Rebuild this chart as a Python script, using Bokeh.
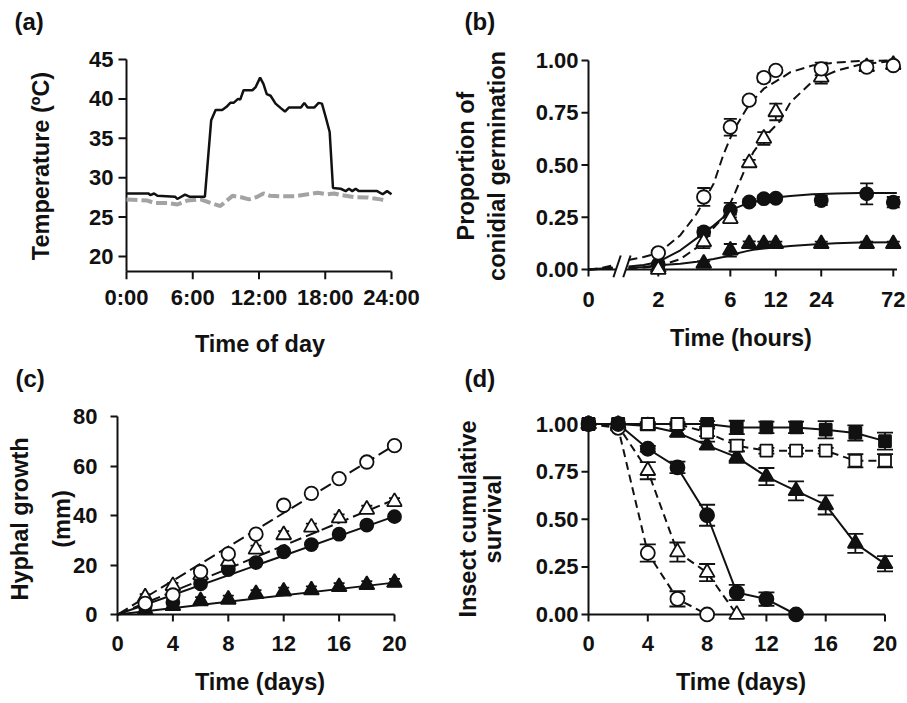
import math
from bokeh.plotting import figure
from bokeh.models import (FixedTicker, NumeralTickFormatter, Whisker, TeeHead,
                          ColumnDataSource)
from bokeh.layouts import row, column
from bokeh.embed import file_html
from bokeh.resources import INLINE

FONT = "Liberation Sans"
BLACK = "#111111"
GREY = "#a3a3a3"
TICK_FS = "22px"
TITLE_FS = "23.5px"
nan = float("nan")

# ---------------- (a) temperature ----------------
A_HEATED_T = [0, 2.0, 2.15, 2.5, 2.8, 4.4, 4.6, 5.3, 5.7, 7.1, 7.67, 8.07, 8.67, 9.06, 9.4,
              9.7, 10.1, 10.3, 10.6, 11.4, 11.7, 12.1, 12.4, 12.7, 13.05, 13.5, 14.0, 14.35,
              14.7, 15.8, 16.1, 16.4, 17.0, 17.4, 17.7, 18.04, 18.4, 18.7, 19.4, 19.85, 20.15,
              20.45, 20.75, 21.05, 22.7, 23.2, 23.6, 24.0]
A_HEATED_C = [28.0, 28.0, 27.8, 28.0, 27.7, 27.6, 27.3, 27.85, 27.6, 27.6, 37.3, 38.6, 38.6,
              39.0, 39.5, 39.5, 40.0, 39.9, 41.1, 41.1, 41.5, 42.7, 41.9, 40.6, 40.4, 39.4,
              38.8, 38.4, 38.9, 38.9, 39.5, 38.9, 38.9, 39.5, 39.4, 37.7, 35.8, 28.7, 28.6,
              28.3, 28.6, 28.3, 28.6, 28.3, 28.3, 27.9, 28.3, 27.9]
A_CTRL_T = [0, 1.9, 2.5, 3.7, 4.6, 5.5, 6.7, 7.6, 8.5, 9.0, 9.6, 10.3, 11.1, 11.8, 12.4, 13.0,
            14.0, 15.2, 16.4, 17.3, 18.2, 18.8, 19.4, 20.6, 21.8, 23.0, 23.5]
A_CTRL_C = [27.25, 27.1, 26.8, 26.8, 26.6, 27.1, 27.25, 26.8, 26.4, 27.0, 27.7, 27.55, 27.25,
            27.55, 28.0, 27.7, 27.65, 27.65, 27.9, 28.1, 27.9, 28.0, 27.8, 27.55, 27.5, 27.25,
            27.1]
A_XTICKS = [0, 6, 12, 18, 24]
A_XTICK_LABELS = ["0:00", "6:00", "12:00", "18:00", "24:00"]
A_YTICKS = [20, 25, 30, 35, 40, 45]
A_YMIN = 18.1

# ---------------- (b) germination ----------------
B_ZERO = 0.69          # where "0" sits on the log time axis
B_AXIS_END = 76.2
B_BREAKS = [1.05, 1.22]
B_T = [2, 4, 6, 8, 10, 12, 24, 48, 72]
B_OC = [0.08, 0.347, 0.681, 0.81, 0.918, 0.953, 0.96, 0.968, 0.976]
B_OC_ERR = [0.01, 0.043, 0.04, 0.015, 0.02, 0.015, 0.03, 0.015, 0.015]
B_OT = [0.0, 0.132, 0.243, 0.51, 0.627, 0.754, 0.92, 0.97, 0.98]
B_OT_ERR = [0.01, 0.03, 0.02, 0.015, 0.03, 0.04, 0.03, 0.02, 0.01]
B_FC = [0.025, 0.18, 0.284, 0.323, 0.339, 0.341, 0.33, 0.362, 0.322]
B_FC_ERR = [0.01, 0.02, 0.035, 0.015, 0.015, 0.015, 0.022, 0.05, 0.025]
B_FT = [0.01, 0.029, 0.092, 0.123, 0.123, 0.123, 0.123, 0.123, 0.123]
B_FT_ERR = [0.005, 0.01, 0.03, 0.012, 0.01, 0.01, 0.01, 0.01, 0.01]
B_FIT_T = [0, 0.85, 1.0, nan, 1.27, 1.6, 2, 2.8, 3.6, 4.65, 5.4, 6.3, 7.7, 8.5, 10, 12.8,
           15, 21, 30, 43, 76]
B_OC_FIT = [0, 0.008, 0.02, nan, 0.045, 0.06, 0.078, 0.164, 0.268, 0.41, 0.55, 0.665, 0.77,
            0.81, 0.865, 0.912, 0.944, 0.976, 0.99, 0.998, 1.0]
B_OT_FIT = [0, 0.002, 0.004, nan, 0.006, 0.01, 0.016, 0.05, 0.105, 0.2, 0.25, 0.35, 0.5,
            0.56, 0.63, 0.71, 0.8, 0.9, 0.95, 0.98, 1.0]
B_FC_FIT = [0, 0.005, 0.01, nan, 0.014, 0.022, 0.036, 0.092, 0.15, 0.21, 0.25, 0.29, 0.315,
            0.323, 0.335, 0.347, 0.352, 0.36, 0.364, 0.366, 0.366]
B_FT_FIT = [0, 0.003, 0.005, nan, 0.008, 0.012, 0.02, 0.028, 0.037, 0.05, 0.06, 0.073, 0.088,
            0.094, 0.1, 0.108, 0.113, 0.12, 0.126, 0.129, 0.13]
B_XTICKS = [0, 2, 6, 12, 24, 72]
B_YTICKS = [0, 0.25, 0.5, 0.75, 1.0]

# ---------------- (c) hyphal growth ----------------
C_T = [2, 4, 6, 8, 10, 12, 14, 16, 18, 20]
C_OC = [4.5, 7.9, 17.3, 24.5, 32.5, 44.2, 49.0, 55.0, 61.7, 68.3]
C_OT = [7.0, 11.6, 16.0, 21.5, 26.4, 32.2, 35.3, 39.0, 42.5, 45.6]
C_FC = [3.5, 5.0, 12.4, 18.2, 21.0, 25.4, 28.3, 32.5, 36.2, 39.6]
C_FT = [2.0, 3.5, 5.5, 6.1, 8.4, 9.4, 9.9, 11.2, 12.0, 12.9]
C_ERR = [1.2, 1.2, 1.5, 1.5, 1.5, 1.5, 1.5, 1.5, 1.5, 1.5]
C_FIT_T = [0, 20]
C_OC_FIT = [0, 68.5]
C_OT_FIT = [0, 46.5]
C_FC_FIT = [0, 39.7]
C_FT_FIT = [0, 12.9]
C_XTICKS = [0, 4, 8, 12, 16, 20]
C_YTICKS = [0, 20, 40, 60, 80]

# ---------------- (d) insect survival ----------------
D_T = [0, 2, 4, 6, 8, 10, 12, 14, 16, 18, 20]
D_FS = [1, 1, 1, 1, 1, 0.982, 0.982, 0.982, 0.97, 0.953, 0.91]
D_FS_ERR = [0, 0, 0.01, 0.01, 0.015, 0.035, 0.03, 0.03, 0.045, 0.04, 0.045]
D_OS = [1, 1, 1, 1, 0.956, 0.886, 0.86, 0.86, 0.86, 0.807, 0.807]
D_OS_ERR = [0, 0, 0, 0, 0.02, 0.03, 0.015, 0.015, 0.015, 0.035, 0.035]
D_FT = [1, 1, 0.99, 0.955, 0.888, 0.826, 0.724, 0.649, 0.575, 0.373, 0.266]
D_FT_ERR = [0, 0, 0.01, 0.02, 0.02, 0.03, 0.045, 0.05, 0.05, 0.05, 0.04]
D_FC_T = [0, 2, 4, 6, 8, 10, 12, 14]
D_FC = [1, 1, 0.87, 0.772, 0.521, 0.115, 0.081, 0.0]
D_FC_ERR = [0, 0, 0.015, 0.03, 0.055, 0.04, 0.035, 0]
D_OT_T = [0, 2, 4, 6, 8, 10]
D_OT = [1, 0.99, 0.755, 0.328, 0.22, 0.0]
D_OT_ERR = [0, 0, 0.045, 0.05, 0.045, 0]
D_OC_T = [0, 2, 4, 6, 8]
D_OC = [1, 0.98, 0.323, 0.082, 0.0]
D_OC_ERR = [0, 0, 0.045, 0.04, 0]
D_XTICKS = [0, 4, 8, 12, 16, 20]
D_YTICKS = [0, 0.25, 0.5, 0.75, 1.0]

# ---------------- shared layout (borders equal within each row / column) --------------
L1, FW1, R1 = 117, 285, 31          # left column
L2, FW2, R2 = 147, 321, 4           # right column
T1, FH1, B1 = 52, 227, 77           # top row
T2, FH2, B2 = 56, 207, 82           # bottom row


def make_fig(col, rw, xr, yr, x_axis_type="linear"):
    l, fw, r = (L1, FW1, R1) if col == 0 else (L2, FW2, R2)
    t, fh, b = (T1, FH1, B1) if rw == 0 else (T2, FH2, B2)
    p = figure(frame_width=fw, frame_height=fh, min_border_left=l, min_border_right=r,
               min_border_top=t, min_border_bottom=b, x_range=xr, y_range=yr,
               x_axis_type=x_axis_type, output_backend="svg", toolbar_location=None)
    p.outline_line_color = None
    p.xgrid.visible = False
    p.ygrid.visible = False
    p.background_fill_color = "white"
    p.border_fill_color = "white"
    return p


def style_axis(ax, ticks, tick_out, standoff, label, label_standoff, bounds,
               line_height=1.2, overrides=None, fmt=None, draw_line=True):
    ax.ticker = FixedTicker(ticks=ticks)
    ax.bounds = bounds
    ax.axis_line_width = 2
    ax.axis_line_color = BLACK if draw_line else None
    ax.major_tick_line_width = 2
    ax.major_tick_line_color = BLACK if draw_line else None
    ax.major_tick_in = 0
    ax.major_tick_out = tick_out
    ax.minor_tick_line_color = None
    ax.major_label_standoff = standoff
    ax.major_label_text_font = FONT
    ax.major_label_text_font_style = "bold"
    ax.major_label_text_font_size = TICK_FS
    ax.major_label_text_color = BLACK
    ax.axis_label = label
    ax.axis_label_standoff = label_standoff
    ax.axis_label_text_font = FONT
    ax.axis_label_text_font_style = "bold"
    ax.axis_label_text_font_size = TITLE_FS
    ax.axis_label_text_color = BLACK
    ax.axis_label_text_line_height = line_height
    if overrides is not None:
        ax.major_label_overrides = overrides
    if fmt is not None:
        ax.formatter = fmt


def panel_tag(p, text, offset, line_height):
    # panel letter as the plot title; a blank second line lifts it to the top corner
    p.title.text = text + "\n\u00a0"
    p.title.align = "left"
    p.title.vertical_align = "bottom"
    p.title.offset = offset
    p.title.standoff = 0
    p.title.text_font = FONT
    p.title.text_font_style = "bold"
    p.title.text_font_size = "24px"
    p.title.text_line_height = line_height
    p.title.text_color = BLACK


def axis_lines(p, xs0, ys0, xs1, ys1):
    p.segment(x0=xs0, y0=ys0, x1=xs1, y1=ys1, line_color=BLACK, line_width=2)


def markers(p, x, y, marker, size, filled):
    p.scatter(x, y, marker=marker, size=size, fill_color=BLACK if filled else "white",
              line_color=BLACK, line_width=1.8)


def errorbars(p, x, y, err, head):
    xs, lo, hi = [], [], []
    for xi, yi, ei in zip(x, y, err):
        if ei > 0:
            xs.append(xi)
            lo.append(yi - ei)
            hi.append(yi + ei)
    src = ColumnDataSource(dict(base=xs, lower=lo, upper=hi))
    p.add_layout(Whisker(base="base", lower="lower", upper="upper", source=src,
                         dimension="height", line_color=BLACK, line_width=1.8,
                         level="underlay",
                         upper_head=TeeHead(size=head, line_color=BLACK, line_width=1.8),
                         lower_head=TeeHead(size=head, line_color=BLACK, line_width=1.8)))


# ---------------- panel (a) ----------------
A_PX_X = 265 / 24.0
A_PX_Y = 197 / 25.0
pa = make_fig(0, 0, (-9 / A_PX_X, 24 + 11 / A_PX_X), (A_YMIN - 8 / A_PX_Y, 45 + 7 / A_PX_Y))
axis_lines(pa, [0, 0], [A_YMIN, A_YMIN], [24, 0], [A_YMIN, 45])
axis_lines(pa, A_XTICKS, [A_YMIN] * 5, A_XTICKS, [A_YMIN - 8 / A_PX_Y] * 5)
axis_lines(pa, [0] * 6, A_YTICKS, [-8 / A_PX_X] * 6, A_YTICKS)
pa.line(A_CTRL_T, A_CTRL_C, line_color=GREY, line_width=4, line_dash="11 4")
pa.line(A_HEATED_T, A_HEATED_C, line_color=BLACK, line_width=2.5)
style_axis(pa.xaxis[0], A_XTICKS, 0, 5, "Time of day", 18, (0, 24),
           overrides=dict(zip(A_XTICKS, A_XTICK_LABELS)), draw_line=False)
style_axis(pa.yaxis[0], A_YTICKS, 0, 4, "Temperature (ºC)", 32, (A_YMIN, 45),
           draw_line=False)
panel_tag(pa, "(a)", -103, 0.63)

# ---------------- panel (b) ----------------
B_PX_DEC = 151.0
B_PX_UNIT = 209.0
pb = make_fig(1, 0, (B_ZERO / 10 ** (8 / B_PX_DEC), B_ZERO * 10 ** (313 / B_PX_DEC)),
              (-10 / B_PX_UNIT, 1 + 8 / B_PX_UNIT), x_axis_type="log")
b_tick_pos = [B_ZERO if t == 0 else t for t in B_XTICKS]
# broken time axis, value axis and outward ticks
axis_lines(pb, [B_ZERO, B_BREAKS[1], B_ZERO], [0, 0, -7 / B_PX_UNIT],
           [B_BREAKS[0], B_AXIS_END, B_ZERO], [0, 0, 1])
axis_lines(pb, b_tick_pos[1:], [0] * 5, b_tick_pos[1:], [-7 / B_PX_UNIT] * 5)
axis_lines(pb, [B_ZERO] * 5, B_YTICKS, [B_ZERO / 10 ** (7 / B_PX_DEC)] * 5, B_YTICKS)
lo_f, hi_f = 10 ** (-2.6 / B_PX_DEC), 10 ** (4.7 / B_PX_DEC)
axis_lines(pb, [b * lo_f for b in B_BREAKS], [-0.037, -0.037],
           [b * hi_f for b in B_BREAKS], [0.067, 0.067])
fit_x = [B_ZERO if t == 0 else t for t in B_FIT_T]
pb.line(fit_x, B_OC_FIT, line_color=BLACK, line_width=2, line_dash="9 5")
pb.line(fit_x, B_OT_FIT, line_color=BLACK, line_width=2, line_dash="9 5")
pb.line(fit_x, B_FC_FIT, line_color=BLACK, line_width=2)
pb.line(fit_x, B_FT_FIT, line_color=BLACK, line_width=2)
for y, e in ((B_FT, B_FT_ERR), (B_FC, B_FC_ERR), (B_OT, B_OT_ERR), (B_OC, B_OC_ERR)):
    errorbars(pb, B_T, y, e, 13)
markers(pb, B_T, B_FT, "triangle", 15, True)
markers(pb, B_T, B_FC, "circle", 13, True)
markers(pb, B_T, B_OT, "triangle", 15, False)
markers(pb, B_T, B_OC, "circle", 13.5, False)
style_axis(pb.xaxis[0], b_tick_pos, 0, 12, "Time (hours)", 15, (B_ZERO, B_AXIS_END),
           overrides={pos: str(t) for pos, t in zip(b_tick_pos, B_XTICKS)}, draw_line=False)
style_axis(pb.yaxis[0], B_YTICKS, 0, 2, "Proportion of\nconidial germination", 23, (0, 1),
           line_height=1.18, fmt=NumeralTickFormatter(format="0.00"), draw_line=False)
panel_tag(pb, "(b)", -116, 0.63)

# ---------------- panel (c) ----------------
C_PX_X = 277 / 20.0
C_PX_Y = 197.7 / 80.0
pc = make_fig(0, 1, (0, FW1 / C_PX_X), (-8 / C_PX_Y, 80 + 1.3 / C_PX_Y))
axis_lines(pc, [0], [0], [20], [0])
axis_lines(pc, C_XTICKS[1:], [0] * 5, C_XTICKS[1:], [-7 / C_PX_Y] * 5)
pc.line(C_FIT_T, C_OC_FIT, line_color=BLACK, line_width=2, line_dash="12 5")
pc.line(C_FIT_T, C_OT_FIT, line_color=BLACK, line_width=2, line_dash="12 5")
pc.line(C_FIT_T, C_FC_FIT, line_color=BLACK, line_width=2)
pc.line(C_FIT_T, C_FT_FIT, line_color=BLACK, line_width=2)
for y in (C_FT, C_FC, C_OT, C_OC):
    errorbars(pc, C_T, y, C_ERR, 11)
markers(pc, C_T, C_FT, "triangle", 15, True)
markers(pc, C_T, C_FC, "circle", 13, True)
markers(pc, C_T, C_OT, "triangle", 15, False)
markers(pc, C_T, C_OC, "circle", 13.5, False)
style_axis(pc.xaxis[0], C_XTICKS, 0, 13, "Time (days)", 15, (0, 20), draw_line=False)
style_axis(pc.yaxis[0], C_YTICKS, 7, 13, "Hyphal growth\n(mm)", -5, (-7 / C_PX_Y, 80),
           line_height=1.6)
panel_tag(pc, "(c)", -102, 0.88)

# ---------------- panel (d) ----------------
D_PX_DAY = (884.5 - 588) / 20.0
D_PX_UNIT = 190.5
pd_ = make_fig(1, 1, (-8 / D_PX_DAY, (FW2 - 8) / D_PX_DAY),
               (-8 / D_PX_UNIT, 1 + 8.5 / D_PX_UNIT))
axis_lines(pd_, [0, 0], [0, 0], [20, 0], [0, 1])
axis_lines(pd_, D_XTICKS, [0] * 6, D_XTICKS, [-7 / D_PX_UNIT] * 6)
axis_lines(pd_, [0] * 5, D_YTICKS, [-7 / D_PX_DAY] * 5, D_YTICKS)
pd_.line(D_T, D_FS, line_color=BLACK, line_width=2)
pd_.line(D_T, D_OS, line_color=BLACK, line_width=2, line_dash="8 5")
pd_.line(D_T, D_FT, line_color=BLACK, line_width=2)
pd_.line(D_FC_T, D_FC, line_color=BLACK, line_width=2)
pd_.line(D_OT_T, D_OT, line_color=BLACK, line_width=2, line_dash="8 5")
pd_.line(D_OC_T, D_OC, line_color=BLACK, line_width=2, line_dash="8 5")
for x, y, e in ((D_T, D_FS, D_FS_ERR), (D_T, D_OS, D_OS_ERR), (D_T, D_FT, D_FT_ERR),
                (D_FC_T, D_FC, D_FC_ERR), (D_OT_T, D_OT, D_OT_ERR), (D_OC_T, D_OC, D_OC_ERR)):
    errorbars(pd_, x, y, e, 16)
markers(pd_, D_T, D_FS, "square", 12, True)
markers(pd_, D_T, D_FT, "triangle", 15, True)
markers(pd_, D_T, D_OS, "square", 12, False)
markers(pd_, D_OT_T, D_OT, "triangle", 15, False)
markers(pd_, D_OC_T, D_OC, "circle", 14, False)
markers(pd_, D_FC_T, D_FC, "circle", 14, True)
style_axis(pd_.xaxis[0], D_XTICKS, 0, 13, "Time (days)", 15, (0, 20), draw_line=False)
style_axis(pd_.yaxis[0], D_YTICKS, 0, 2, "Insect cumulative\nsurvival", 27, (0, 1),
           line_height=0.95, fmt=NumeralTickFormatter(format="0.00"), draw_line=False)
panel_tag(pd_, "(d)", -116, 0.88)

layout = column(row(pa, pb), row(pc, pd_))
open("out.html", "w").write(file_html(layout, INLINE))
